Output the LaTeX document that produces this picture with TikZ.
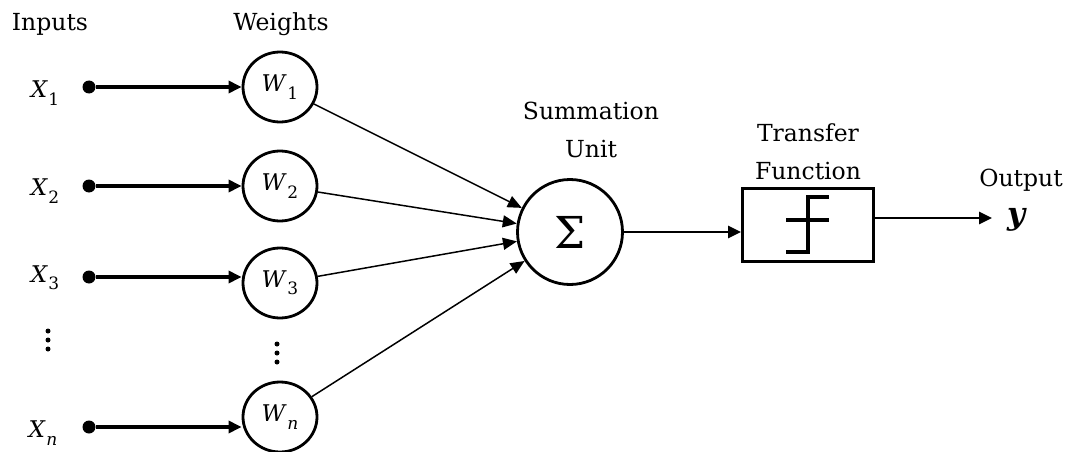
\documentclass[tikz,border=0pt]{standalone}
\usepackage{fontspec}
\setmainfont{DejaVu Serif}
\usetikzlibrary{arrows.meta,shapes.geometric}
\newcommand{\symsub}[2]{\textit{#1}\kern0.5pt\raisebox{-0.32em}{\fontsize{17}{20}\selectfont #2}}
\begin{document}
\begin{tikzpicture}[x=1pt,y=-1pt,
  lbl/.style={font=\fontsize{23.5}{38}\selectfont, inner sep=0pt},
  var/.style={font=\fontsize{23}{28}\selectfont, inner sep=0pt},
  wnode/.style={draw, line width=2.8pt, ellipse, minimum width=74pt, minimum height=70pt, inner sep=0pt, font=\fontsize{23}{28}\selectfont},
  inarrow/.style={line width=3.2pt, -{Triangle[length=13pt,width=12pt]}},
  warrow/.style={line width=1.5pt, -{Triangle[length=14pt,width=12pt]}},
  outarrow/.style={line width=2.8pt, -{Triangle[length=13pt,width=12pt]}},
  dotnode/.style={circle, fill, inner sep=0pt, minimum size=13pt},
  vdot/.style={circle, fill, inner sep=0pt, minimum size=5pt},
]
\useasboundingbox (0,0) rectangle (1071,452);

% headings
\node[lbl] (hin) at (50,24) {Inputs};
\node[lbl] (hw) at (281,24) {Weights};
\node[lbl] (hsum1) at (591,111) {Summation};
\node[lbl] (hsum2) at (591,149) {Unit};
\node[lbl] (htf1) at (808,133) {Transfer};
\node[lbl] (htf2) at (808,171) {Function};
\node[lbl] (hout) at (1021,180) {Output};

% input labels
\node[var] (x1) at (45,93) {\symsub{X}{1}};
\node[var] (x2) at (45,191) {\symsub{X}{2}};
\node[var] (x3) at (45,278) {\symsub{X}{3}};
\node[var] (xn) at (43,433) {\symsub{X}{\itshape n}};

% input dots
\node[dotnode] (d1) at (89,87) {};
\node[dotnode] (d2) at (89,186) {};
\node[dotnode] (d3) at (89,277) {};
\node[dotnode] (dn) at (89,427) {};

% weight nodes
\node[wnode] (w1) at (280,87) {\symsub{W}{1}};
\node[wnode] (w2) at (280,186) {\symsub{W}{2}};
\node[wnode] (w3) at (280,283) {\symsub{W}{3}};
\node[wnode] (wn) at (280,417) {\symsub{W}{\itshape n}};

% vertical ellipses
\foreach \k/\yy in {a/331,b/340,c/349} \node[vdot] (l\k) at (48,\yy) {};
\foreach \k/\yy in {a/344,b/353,c/362} \node[vdot] (r\k) at (277,\yy) {};

% summation unit
\node[draw, line width=2.8pt, circle, minimum size=105pt, inner sep=0pt, font=\fontsize{44}{50}\selectfont] (sum) at (570,232) {Σ};

% transfer function box
\node[draw, line width=2.8pt, minimum width=131pt, minimum height=73pt, inner sep=0pt] (tf) at (808,225) {};
\coordinate (s1) at (786,252);
\coordinate (s2) at (808,252);
\coordinate (s3) at (808,197);
\coordinate (s4) at (829,197);
\coordinate (m1) at (786,220);
\coordinate (m2) at (829,220);
\draw[line width=3.2pt] (s1) -- (s2) -- (s3) -- (s4);
\draw[line width=3.2pt] (m1) -- (m2);

% output
\node[inner sep=0pt, font=\fontsize{31}{36}\selectfont\bfseries\itshape] (y) at (1016,220) {y};

% connectors
\draw[inarrow] (d1) -- (d1 -| w1.west);
\draw[inarrow] (d2) -- (d2 -| w2.west);
\draw[inarrow] (d3) -- (d3 -| w3.west);
\draw[inarrow] (dn) -- (dn -| wn.west);
\draw[warrow] (w1) -- (sum);
\draw[warrow] (w2) -- (sum);
\draw[warrow] (w3) -- (sum);
\draw[warrow] (wn) -- (sum);
\draw[outarrow] (sum.east) -- (sum.east -| tf.west);
\coordinate (yin) at (992,218);
\draw[outarrow] (tf.east |- yin) -- (yin);
\end{tikzpicture}
\end{document}
